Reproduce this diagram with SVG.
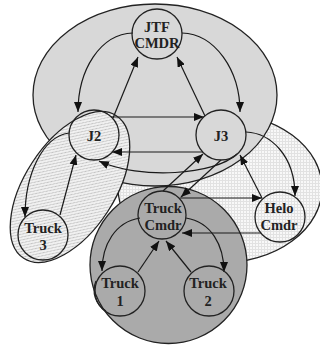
<svg xmlns="http://www.w3.org/2000/svg" width="320" height="346" viewBox="0 0 320 346">
  <defs>
    <pattern id="hatch" width="4" height="4" patternUnits="userSpaceOnUse">
      <rect width="4" height="4" fill="#f1f1f1"/>
      <path d="M0,0 L4,4 M-1,3 L1,5 M3,-1 L5,1" stroke="#b8b8b8" stroke-width="0.9"/>
    </pattern>
    <pattern id="grid" width="3" height="3" patternUnits="userSpaceOnUse">
      <rect width="3" height="3" fill="#f8f8f8"/>
      <path d="M0,0.5H3M0.5,0V3" stroke="#e2e2e2" stroke-width="1"/>
    </pattern>
    <marker id="arrow" viewBox="0 0 10 8" refX="10" refY="4" markerWidth="10" markerHeight="8" markerUnits="userSpaceOnUse" orient="auto">
      <path d="M0,0 L10,4 L0,8 z" fill="#111"/>
    </marker>
  </defs>
  <style>
    .region { stroke: #222; stroke-width: 1.3; }
    .node { fill: none; stroke: #222; stroke-width: 1.3; }
    .label { font-family: "Liberation Serif", "Times New Roman", serif; font-weight: bold; font-size: 14.5px; fill: #222; text-anchor: middle; }
    .edge { fill: none; stroke: #1a1a1a; stroke-width: 1.2; marker-end: url(#arrow); }
  </style>

  <!-- groupings -->
  <g id="regions">
    <ellipse class="region" cx="220" cy="188" rx="102" ry="75" fill="url(#grid)"/>
    <ellipse class="region" cx="155" cy="95" rx="122" ry="91" fill="#d8d8d8"/>
    <ellipse class="region" cx="70" cy="187" rx="85" ry="45" transform="rotate(-57 70 187)" fill="url(#hatch)"/>
    <circle class="region" cx="168.5" cy="265" r="78.5" fill="#aaaaaa"/>
  </g>

  <!-- connectors -->
  <g id="connectors">
    <path class="edge" d="M133,33 C100,34 78,70 78,112"/>
    <path class="edge" d="M113,118 L138,57"/>
    <path class="edge" d="M182,33 C215,34 240,70 240,112"/>
    <path class="edge" d="M205,116 L177,57"/>
    <path class="edge" d="M111,117 L204,117"/>
    <path class="edge" d="M203,152 L112,152"/>
    <path class="edge" d="M237,154 C215,175 140,180 99,161"/>
    <path class="edge" d="M69,133 C42,137 25,175 25,217"/>
    <path class="edge" d="M60,215 L76,155"/>
    <path class="edge" d="M246,132 C270,133 295,155 295,196"/>
    <path class="edge" d="M262,198 L240,155"/>
    <path class="edge" d="M180,198 L262,198"/>
    <path class="edge" d="M261,233 L182,233"/>
    <path class="edge" d="M163,191 L203,154"/>
    <path class="edge" d="M221,160 L181,197"/>
    <path class="edge" d="M140,218 C115,222 102,245 102,271"/>
    <path class="edge" d="M138,272 L159,241"/>
    <path class="edge" d="M191,272 L166,241"/>
    <path class="edge" d="M186,218 C211,222 224,245 224,272"/>
  </g>

  <!-- nodes -->
  <g id="jtf-cmdr">
    <circle class="node" cx="157" cy="34" r="25"/>
    <text class="label" x="157" y="32">JTF</text>
    <text class="label" x="157" y="48">CMDR</text>
  </g>
  <g id="j2">
    <circle class="node" cx="94" cy="135" r="25"/>
    <text class="label" x="94" y="141">J2</text>
  </g>
  <g id="j3">
    <circle class="node" cx="221" cy="135" r="25"/>
    <text class="label" x="221" y="141">J3</text>
  </g>
  <g id="truck-cmdr">
    <circle class="node" cx="162" cy="215" r="24"/>
    <text class="label" x="163" y="213">Truck</text>
    <text class="label" x="163" y="230">Cmdr</text>
  </g>
  <g id="helo-cmdr">
    <circle class="node" cx="280" cy="217" r="25" fill="#fbfbfb"/>
    <text class="label" x="279" y="213">Helo</text>
    <text class="label" x="279" y="230">Cmdr</text>
  </g>
  <g id="truck-3">
    <circle class="node" cx="43" cy="235" r="25" fill="#fbfbfb"/>
    <text class="label" x="43" y="233">Truck</text>
    <text class="label" x="43" y="250">3</text>
  </g>
  <g id="truck-1">
    <circle class="node" cx="120" cy="291" r="25"/>
    <path class="node" d="M96,281 A24,24 0 0,0 106,311"/>
    <text class="label" x="120" y="288">Truck</text>
    <text class="label" x="120" y="306">1</text>
  </g>
  <g id="truck-2">
    <circle class="node" cx="209" cy="291" r="25"/>
    <text class="label" x="208" y="288">Truck</text>
    <text class="label" x="208" y="306">2</text>
  </g>
</svg>
